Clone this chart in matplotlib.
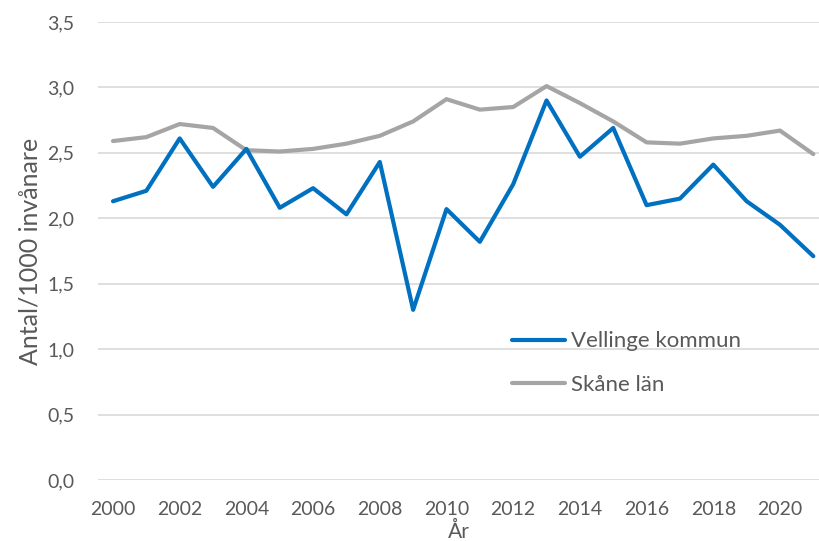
import matplotlib.pyplot as plt
import numpy as np

plt.rcParams['font.family'] = ['Lato', 'DejaVu Sans']
plt.rcParams['font.size'] = 14

years = list(range(2000, 2022))
vellinge = [2.13, 2.21, 2.61, 2.24, 2.53, 2.08, 2.23, 2.03, 2.43, 1.30, 2.07,
            1.82, 2.26, 2.90, 2.47, 2.69, 2.10, 2.15, 2.41, 2.13, 1.95, 1.71]
skane = [2.59, 2.62, 2.72, 2.69, 2.52, 2.51, 2.53, 2.57, 2.63, 2.74, 2.91,
         2.83, 2.85, 3.01, 2.88, 2.74, 2.58, 2.57, 2.61, 2.63, 2.67, 2.49]
xticks = list(range(2000, 2021, 2))
yticks = [0, 0.5, 1.0, 1.5, 2.0, 2.5, 3.0, 3.5]

fig = plt.figure(figsize=(8.2, 5.41), dpi=100)
ax = fig.add_axes([0.1195, 0.1128, 0.8805, 0.8466])

ax.plot(years, vellinge, color='#0070C0', linewidth=3, label='Vellinge kommun',
        solid_joinstyle='round', solid_capstyle='round', zorder=3)
ax.plot(years, skane, color='#A5A5A5', linewidth=3, label='Skåne län',
        solid_joinstyle='round', solid_capstyle='round', zorder=2)

ax.set_xlim(1999.55, 2021.2)
ax.set_ylim(0, 3.5)
ax.set_xticks(xticks)
ax.set_yticks(yticks)
ax.set_yticklabels([f'{v:.1f}'.replace('.', ',') for v in yticks])
ax.tick_params(axis='both', length=0, colors='#595959', labelsize=14)
ax.tick_params(axis='y', pad=17)
ax.tick_params(axis='x', pad=15)
ax.grid(axis='y', color='#D9D9D9', linewidth=1.2)
ax.set_axisbelow(True)
for s in ax.spines.values():
    s.set_visible(False)

ax.set_ylabel('Antal/1000 invånare', color='#595959', fontsize=18, labelpad=4)
ax.set_xlabel('År', color='#595959', fontsize=15, labelpad=3)

ax.legend(loc='upper left', bbox_to_anchor=(0.561, 0.344), frameon=False,
          fontsize=16, labelcolor='#595959', handlelength=2.4,
          labelspacing=1.07, handletextpad=0.25, borderaxespad=0)

fig.savefig('out.png', dpi=100)
